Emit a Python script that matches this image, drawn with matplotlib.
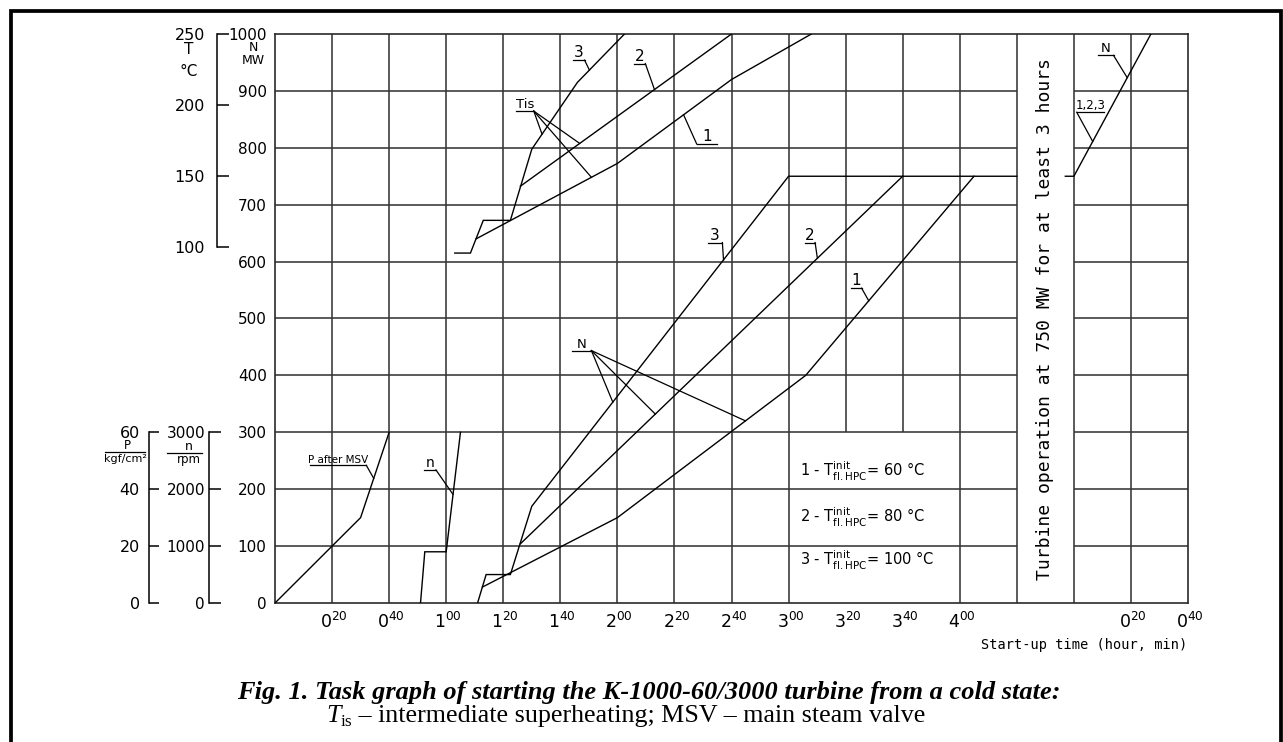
import numpy as np
import matplotlib
matplotlib.use("Agg")
import matplotlib.pyplot as plt
from matplotlib.transforms import offset_copy
from matplotlib.patches import Rectangle

# ---------------- data (time in minutes; 260..280 = 3-hour hold band, 280.. = restart clock) ----
p_time = [0, 20, 30, 40]
p_value = [0, 20, 30, 60]            # P after MSV, kgf/cm2

n_time = [51, 52.5, 60, 65]
n_value = [0, 900, 900, 3000]        # rotor speed, rpm

tis3_time = [63, 68.5, 73, 82.5, 90, 106, 122.5]
tis3_temp = [96, 96, 119, 119, 169, 216, 250]
tis2_time = [86, 160]
tis2_temp = [143, 250]
tis1_time = [70.5, 120, 160, 188]
tis1_temp = [106, 159, 218, 250]

n3_time = [71, 74, 82.5, 90, 180, 260]
n3_power = [0, 50, 50, 170, 750, 750]
n2_time = [86, 220]
n2_power = [104, 750]
n1_time = [72.7, 120, 186, 245]
n1_power = [28, 150, 400, 750]

restart_time = [277, 280, 307]
restart_power = [750, 750, 1000]

tick_minutes = [20, 40, 60, 80, 100, 120, 140, 160, 180, 200, 220, 240, 300, 320]
tick_hours = ["0", "0", "1", "1", "1", "2", "2", "2", "3", "3", "3", "4", "0", "0"]
tick_mins = ["20", "40", "00", "20", "40", "00", "20", "40", "00", "20", "40", "00", "20", "40"]

N_ticks = list(range(0, 1001, 100))
T_ticks = [100, 150, 200, 250]
P_ticks = [0, 20, 40, 60]
n_ticks = [0, 1000, 2000, 3000]

legend_ids = ["1", "2", "3"]
legend_temps = [60, 80, 100]

# ---------------- figure ----------------
W, H = 1283, 742
fig = plt.figure(figsize=(W / 100, H / 100), dpi=100)
fig.patch.set_facecolor("white")


def fx(px):
    return px / W


def fy(py):
    return 1 - py / H


L, R, TOP, BOT = 275, 1188, 34, 603
ax = fig.add_axes([fx(L), fy(BOT), (R - L) / W, (BOT - TOP) / H])
ax.set_xlim(0, 320)
ax.set_ylim(0, 1000)
for s in ax.spines.values():
    s.set_linewidth(1.2)
    s.set_color("#2a2a2a")

gc, glw = "#363636", 1.15
for xv in [20, 40, 60, 80, 100, 120, 140, 160, 180, 240, 260, 280, 300]:
    ax.axvline(xv, color=gc, lw=glw, zorder=1)
for xv in [200, 220]:
    ax.vlines(xv, 300, 1000, color=gc, lw=glw, zorder=1)
for yv in range(100, 1000, 100):
    ax.hlines(yv, 0, 260, color=gc, lw=glw, zorder=1)
    ax.hlines(yv, 280, 320, color=gc, lw=glw, zorder=1)

ax.set_xticks([])
ax.set_yticks(N_ticks)
ax.set_yticklabels([str(v) for v in N_ticks])
ax.tick_params(axis="y", length=0, pad=6, labelsize=11)


def side_axis(ylim, bounds, ticks, outward_px, tick_len_px, pad_px, fs):
    a = ax.twinx()
    a.set_ylim(*ylim)
    for s in ["right", "top", "bottom"]:
        a.spines[s].set_visible(False)
    sp = a.spines["left"]
    sp.set_visible(True)
    sp.set_position(("outward", outward_px * 0.72))
    sp.set_bounds(*bounds)
    sp.set_linewidth(1.1)
    a.yaxis.set_ticks_position("left")
    a.set_yticks(ticks)
    a.set_yticklabels([str(t) for t in ticks])
    a.tick_params(axis="y", direction="in", length=tick_len_px * 0.72,
                  width=1.1, pad=pad_px * 0.72, labelsize=fs)
    return a


axT = side_axis((-150, 250), (100, 250), T_ticks, 58.3, 11.6, 11.7, 11.5)
axP = side_axis((0, 200), (0, 60), P_ticks, 126, 10, 9, 11.5)
axn = side_axis((0, 10000), (0, 3000), n_ticks, 66, 12, 4, 11)

ck = dict(color="black", lw=1.0, zorder=3, solid_joinstyle="miter")
axP.plot(p_time, p_value, **ck)
axn.plot(n_time, n_value, **ck)
axT.plot(tis3_time, tis3_temp, **ck)
axT.plot(tis2_time, tis2_temp, **ck)
axT.plot(tis1_time, tis1_temp, **ck)
ax.plot(n3_time, n3_power, **ck)
ax.plot(n2_time, n2_power, **ck)
ax.plot(n1_time, n1_power, **ck)
ax.plot(restart_time, restart_power, **ck)


def on(tx, ty, x):
    return (x, float(np.interp(x, tx, ty)))


def tag(a, text, x0, x1, y, from_left, targets, fs=10):
    a.plot([x0, x1], [y, y], color="black", lw=0.9, zorder=3)
    a.text((x0 + x1) / 2, y, text, ha="center", va="bottom", fontsize=fs, zorder=4)
    sx = x0 if from_left else x1
    for (tx, ty) in targets:
        a.plot([sx, tx], [y, ty], color="black", lw=0.9, zorder=3)


# T_is labels
tag(axT, "3", 104.4, 108.5, 231.6, False, [on(tis3_time, tis3_temp, 110.2)], 11)
tag(axT, "2", 125.9, 129.8, 229.2, False, [on(tis2_time, tis2_temp, 133)], 11)
tag(axT, "1", 147.8, 154.9, 172.7, True, [on(tis1_time, tis1_temp, 143.2)], 11)
tag(axT, "Tis", 84.5, 90.7, 195.8, False,
    [on(tis3_time, tis3_temp, 93.6), on(tis2_time, tis2_temp, 106.8),
     on(tis1_time, tis1_temp, 110.9)], 9.5)
# N labels
tag(ax, "3", 151.7, 156.8, 633.5, False, [on(n3_time, n3_power, 157.2)], 11)
tag(ax, "2", 185.6, 189.3, 633.5, False, [on(n2_time, n2_power, 190.1)], 11)
tag(ax, "1", 201.8, 205.6, 553.3, False, [on(n1_time, n1_power, 208.1)], 11)
tag(ax, "N", 104.2, 110.9, 443.6, False,
    [on(n3_time, n3_power, 118.4), on(n2_time, n2_power, 133.3),
     on(n1_time, n1_power, 164.9)], 9.5)
tag(ax, "N", 288.3, 293.9, 962.4, False, [on(restart_time, restart_power, 298.7)], 9.5)
tag(ax, "1,2,3", 281, 290.5, 862.5, True, [on(restart_time, restart_power, 286.6)], 8.5)
tag(axP, "P after MSV", 12.2, 32, 48.4, False, [on(p_time, p_value, 34.6)], 7.5)
tag(axn, "n", 52.3, 56.4, 2339, False, [on(n_time, n_value, 62.4)], 10)

# legend block
for lid, temp, yv in zip(legend_ids, legend_temps, [232, 150, 75]):
    ax.text(184, yv, lid + r" - $\mathrm{T}^{\mathrm{init}}_{\mathrm{fl.HPC}}$= " + f"{temp} °C",
            ha="left", va="center", fontsize=10.5, zorder=4)

ax.text(270, 500, "Turbine operation at 750 MW for at least 3 hours",
        rotation=90, ha="center", va="center", fontsize=13,
        family="DejaVu Sans Mono", zorder=4)

# x tick labels hour^min
base_tr = ax.get_xaxis_transform()
tr_lab = offset_copy(base_tr, fig=fig, x=2, y=-19, units="dots")
for m, hh, mm in zip(tick_minutes, tick_hours, tick_mins):
    ax.text(m, 0, "$" + hh + "^{" + mm + "}$", transform=tr_lab,
            ha="center", va="center", fontsize=12.5)

fig.text(fx(1187), fy(645), "Start-up time (hour, min)", ha="right", va="center",
         fontsize=9.8, family="DejaVu Sans Mono")

# axis captions at the left
fig.text(fx(189), fy(49), "T", ha="center", va="center", fontsize=11)
fig.text(fx(189), fy(71), "°C", ha="center", va="center", fontsize=11)
fig.text(fx(253), fy(47.5), "N", ha="center", va="center", fontsize=9)
fig.text(fx(253), fy(60.5), "MW", ha="center", va="center", fontsize=9)
fig.text(fx(127), fy(445.5), "P", ha="center", va="center", fontsize=8.5)
fig.add_artist(plt.Line2D([fx(105), fx(145)], [fy(451.5), fy(451.5)], color="black", lw=0.9))
fig.text(fx(125), fy(459), "kgf/cm²", ha="center", va="center", fontsize=8)
fig.text(fx(189), fy(446), "n", ha="center", va="center", fontsize=9)
fig.add_artist(plt.Line2D([fx(167), fx(202)], [fy(452.5), fy(452.5)], color="black", lw=0.9))
fig.text(fx(189), fy(460), "rpm", ha="center", va="center", fontsize=8.5)

# caption
fig.text(fx(648.5), fy(693), "Fig. 1. Task graph of starting the K-1000-60/3000 turbine from a cold state:",
         ha="center", va="center", fontsize=19, family="Liberation Serif",
         style="italic", weight="bold")
parts = [("T", dict(style="italic", size=18.7), 0),
         ("is", dict(size=12.5), -4),
         (" – intermediate superheating; MSV – main steam valve", dict(size=18.7), 0)]
texts = []
for s, kw, dy in parts:
    t = fig.text(0, 0, s, family="Liberation Serif", ha="left", va="baseline", **kw)
    texts.append((t, dy))
fig.canvas.draw()
rend = fig.canvas.get_renderer()
widths = [t.get_window_extent(rend).width for t, _ in texts]
xcur = 626 - sum(widths) / 2
base_y = H - 722
for (t, dy), w in zip(texts, widths):
    t.set_position((xcur / W, (base_y + dy) / H))
    xcur += w

# page frame
fig.add_artist(Rectangle((fx(10.8), -0.2), (1281.3 - 10.8) / W, 0.2 + (H - 10.8) / H,
                         transform=fig.transFigure, fill=False, lw=2.7, ec="black"))

fig.savefig("out.png", dpi=100)
